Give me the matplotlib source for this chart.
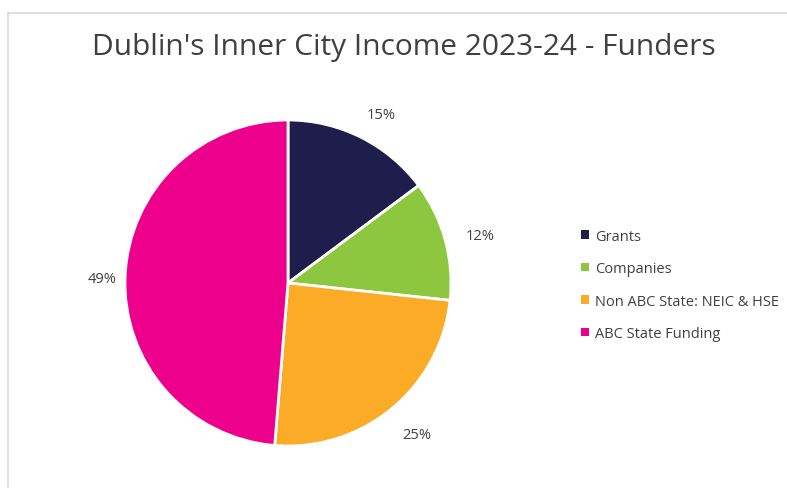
import matplotlib.pyplot as plt
from matplotlib.patches import Patch
from matplotlib.lines import Line2D
import numpy as np

# data
categories = ["Grants", "Companies", "Non ABC State: NEIC & HSE", "ABC State Funding"]
shares = [14.8, 11.9, 24.6, 48.7]
pct_labels = ["15%", "12%", "25%", "49%"]
colors = ["#1f1d4c", "#8dc63f", "#fbab26", "#ec008c"]

plt.rcParams['font.family'] = ['Open Sans', 'DejaVu Sans']
txt = "#404040"

fig = plt.figure(figsize=(7.87, 4.89), dpi=100)

# pie axes: centre ~ (288, 284) px, radius ~ 163 px
W, H = 787, 489
ax = fig.add_axes([125 / W, (H - 284 - 163) / H, 326 / W, 326 / H])
wedges, _ = ax.pie(shares, colors=colors, startangle=90, counterclock=False,
                   wedgeprops=dict(edgecolor="white", linewidth=2), radius=1)
ax.set_xlim(-1, 1)
ax.set_ylim(-1, 1)
ax.set_aspect("equal")

# percentage labels outside the slices
cum = np.cumsum([0] + shares[:-1])
for lab, c, s in zip(pct_labels, cum, shares):
    ang = np.deg2rad(90 - (c + s / 2) / sum(shares) * 360)
    ax.text(1.18 * np.cos(ang) + 0.04, 1.18 * np.sin(ang) - 0.02, lab, ha="center", va="center",
            fontsize=10.5, color=txt)

fig.text(404 / W, 1 - 47 / H, "Dublin's Inner City Income 2023-24 - Funders",
         ha="center", va="center", fontsize=21.5, color=txt)

handles = [Patch(facecolor=c, edgecolor="none") for c in colors]
fig.legend(handles, categories, loc="center left", bbox_to_anchor=(575 / W, 1 - 286 / H),
           frameon=False, fontsize=10.5, labelcolor=txt, handlelength=0.55, handleheight=0.55,
           handletextpad=0.45, labelspacing=1.2, borderaxespad=0)

# chart border (left and top visible in the screenshot)
fig.add_artist(Line2D([8 / W, 8 / W], [0, 1 - 14 / H], color="#d9d9d9", lw=1.2))
fig.add_artist(Line2D([8 / W, 1], [1 - 14 / H, 1 - 14 / H], color="#d9d9d9", lw=1.2))

fig.savefig("out.png", dpi=100)
